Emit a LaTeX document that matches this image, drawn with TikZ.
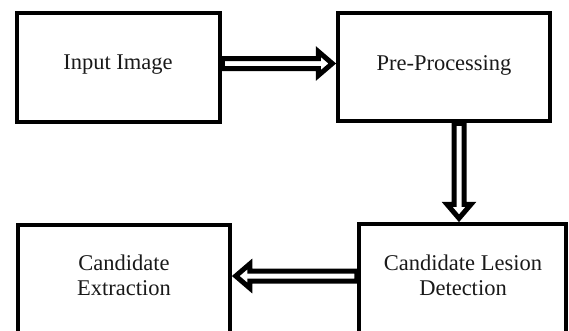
\documentclass[tikz,border=0pt]{standalone}
\usepackage{fontspec}
\setmainfont{Liberation Serif}
\usetikzlibrary{calc}
\begin{document}
\begin{tikzpicture}[x=1pt,y=-1pt,
  stage/.style={draw=black, line width=4.5pt, rectangle, inner sep=0pt},
  caption/.style={font=\fontsize{22.5}{25}\selectfont, align=center, text=black!90},
  % outlined block arrow: shaft half-width 5pt, head half-width 12pt, head length 14pt
  flow/.style={draw=black, fill=white, line width=5pt, miter limit=10,
    to path={
      let \p1=($(\tikztotarget)!14pt!(\tikztostart)$) in
      ($(\tikztostart)!5pt!90:(\tikztotarget)$)
      -- ($(\x1,\y1)!5pt!90:(\tikztotarget)$)
      -- ($(\x1,\y1)!12pt!90:(\tikztotarget)$)
      -- (\tikztotarget)
      -- ($(\x1,\y1)!12pt!-90:(\tikztotarget)$)
      -- ($(\x1,\y1)!5pt!-90:(\tikztotarget)$)
      -- ($(\tikztostart)!5pt!-90:(\tikztotarget)$)
      -- cycle}}]
  \useasboundingbox (0,0) rectangle (569,330);
  \begin{scope}
    \clip (0,0) rectangle (569,330);
    % process boxes
    \node[stage, minimum width=203pt, minimum height=109pt] (inp) at (118.5,67.5) {};
    \node[stage, minimum width=212pt, minimum height=108pt] (pre) at (444,67) {};
    \node[stage, minimum width=207pt, minimum height=120pt] (det) at (462.5,284) {};
    \node[stage, minimum width=212pt, minimum height=120pt] (ext) at (124,285) {};
  \end{scope}
  % box captions
  \node[caption] (tinp) at (118,65) {Input Image};
  \node[caption] (tpre) at (444,65) {Pre-Processing};
  \node[caption] (tdet) at (463,275) {Candidate Lesion\\Detection};
  \node[caption] (text) at (124,275) {Candidate\\Extraction};
  % flow arrows
  \path[flow] ([yshift=4pt]inp.east) to ([yshift=4pt,xshift=-3.5pt]inp.east -| pre.west);
  \path[flow] ([xshift=15pt]pre.south) to ([xshift=15pt,yshift=3.5pt]pre.south |- det.north);
  \path[flow] (det.west |- 0,276) to ([xshift=3.5pt]ext.east |- 0,276);
\end{tikzpicture}
\end{document}
